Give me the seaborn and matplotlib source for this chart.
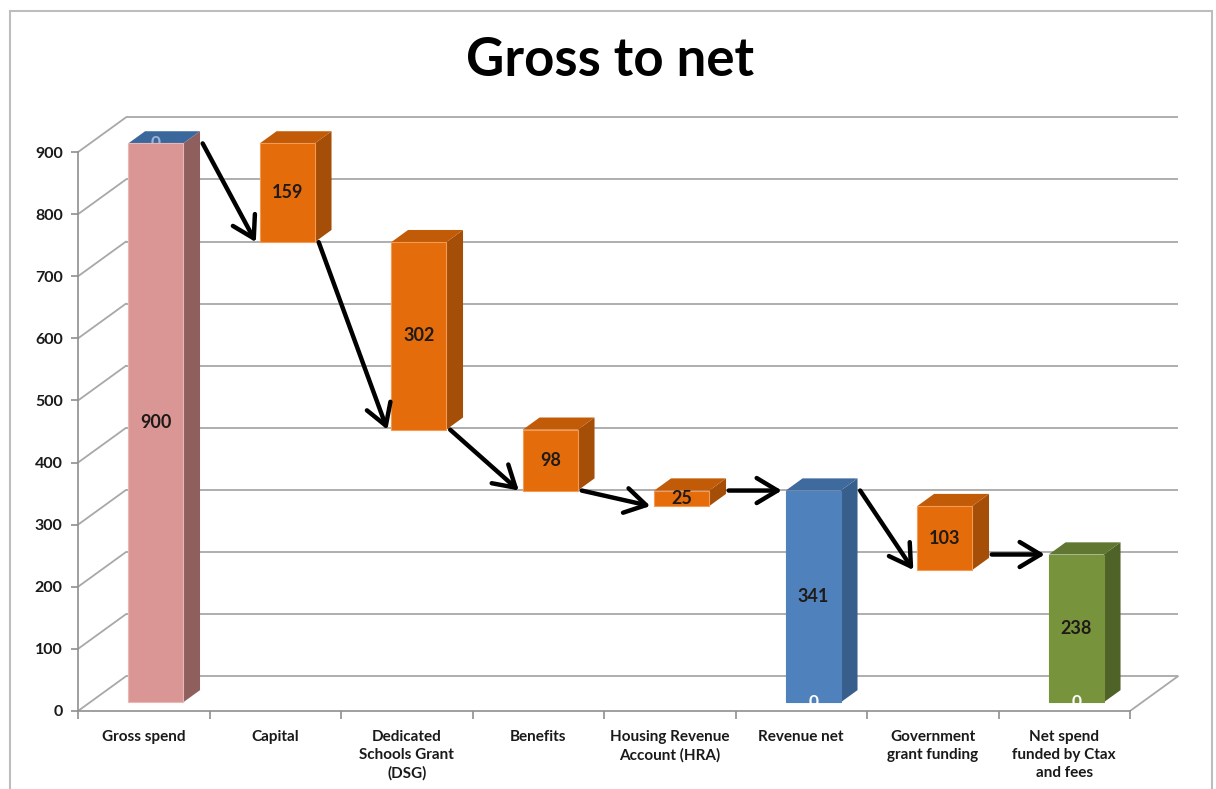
import numpy as np
import pandas as pd
import matplotlib
matplotlib.use("Agg")
import matplotlib.pyplot as plt
from matplotlib.patches import Polygon, FancyArrowPatch, Rectangle
import seaborn as sns

# ---- data -------------------------------------------------------------
categories = [
    "Gross spend",
    "Capital",
    "Dedicated\nSchools Grant\n(DSG)",
    "Benefits",
    "Housing Revenue\nAccount (HRA)",
    "Revenue net",
    "Government\ngrant funding",
    "Net spend\nfunded by Ctax\nand fees",
]
values = [900, 159, 302, 98, 25, 341, 103, 238]
steps = ["start", "down", "down", "down", "down", "total", "down", "total"]
y_ticks = [0, 100, 200, 300, 400, 500, 600, 700, 800, 900]

# arrows: (from bar, edge of that bar, to bar, edge of that bar)
arrow_links = [
    (0, "top", 1, "bottom"),
    (1, "bottom", 2, "bottom"),
    (2, "bottom", 3, "bottom"),
    (3, "bottom", 4, "bottom"),
    (4, "top", 5, "top"),
    (5, "top", 6, "bottom"),
    (7, "top", 7, "top"),
]

# ---- styling ----------------------------------------------------------
front_colors = ["#D99694", "#E46C0A", "#E46C0A", "#E46C0A", "#E46C0A",
                "#4F81BD", "#E46C0A", "#77933C"]
side_colors = ["#8F5F5E", "#A54E07", "#A54E07", "#A54E07", "#A54E07",
               "#385E8B", "#A54E07", "#4F6228"]
top_colors = ["#3B689C", "#C25B08", "#C25B08", "#C25B08", "#C25B08",
              "#3E6A9E", "#C25B08", "#5F7731"]
edge_colors = ["#E8B7B6", "#F59A52", "#F59A52", "#F59A52", "#F59A52",
               "#4F81BD", "#F59A52", "#77933C"]
GRID = "#a8a8a8"
AXIS = "#8f8f8f"

# oblique depth of the plot box, in data units (category units, value units)
DX, DY = 0.365, 56.0
D0 = 0.25          # depth of the bar fronts
DD = 0.35          # bar depth
BAR_W = 0.418

# ---- derive floating bar extents ---------------------------------------
bottoms, heights = [], []
level = 0
for v, s in zip(values, steps):
    if s == "start":
        b, level = 0, v
    elif s == "down":
        b = level - v
        level = b
    else:
        b = 0
    bottoms.append(b)
    heights.append(v)
bottoms = np.array(bottoms, dtype=float)
heights = np.array(heights, dtype=float)
tops = bottoms + heights

sns.set_theme(style="white")
plt.rcParams["font.family"] = ["Lato", "DejaVu Sans"]

fig = plt.figure(figsize=(12.16, 7.89), dpi=100)
W, H = 1216, 789
XSCALE = 131.5     # px per category
YSCALE = 0.621     # px per value unit
x_lo, x_hi = -0.5, 7.9
y_lo, y_hi = 0, 962
ax = fig.add_axes([78 / W, 78 / H, (x_hi - x_lo) * XSCALE / W, (y_hi - y_lo) * YSCALE / H])

df = pd.DataFrame({"category": categories, "height": heights})
sns.barplot(data=df, x="category", y="height", bottom=bottoms + D0 * DY,
            width=BAR_W, color=front_colors[0], saturation=1, errorbar=None,
            ax=ax, zorder=3)

ax.set_xlim(x_lo, x_hi)
ax.set_ylim(y_lo, y_hi)

# back wall gridlines and side-wall diagonals
for v in y_ticks:
    ax.plot([-0.5 + DX, 7.5 + DX], [v + DY, v + DY], color=GRID, lw=1.3, zorder=1,
            solid_capstyle="butt")
    ax.plot([-0.5, -0.5 + DX], [v, v + DY], color=GRID, lw=1.3, zorder=1)
ax.plot([7.5, 7.5 + DX], [0, DY], color=GRID, lw=1.3, zorder=1)

# 3-D faces for every bar
ddx, ddy = DD * DX, DD * DY
centers = []
for i, p in enumerate(ax.patches):
    p.set_x(p.get_x() + D0 * DX)
    p.set_facecolor(front_colors[i])
    p.set_edgecolor(edge_colors[i])
    p.set_linewidth(0.8)
    xL = p.get_x()
    xR = xL + p.get_width()
    yB = p.get_y()
    yT = yB + p.get_height()
    side = Polygon([(xR, yB), (xR + ddx, yB + ddy), (xR + ddx, yT + ddy), (xR, yT)],
                   closed=True, fc=side_colors[i], ec="none", zorder=2.5)
    top = Polygon([(xL, yT), (xR, yT), (xR + ddx, yT + ddy), (xL + ddx, yT + ddy)],
                  closed=True, fc=top_colors[i], ec="none", zorder=2.5)
    ax.add_patch(side)
    ax.add_patch(top)
    cx = (xL + xR) / 2
    centers.append((xL, xR, yB, yT))
    ax.text(cx, (yB + yT) / 2, f"{values[i]:g}", ha="center", va="center",
            fontsize=13, fontweight="bold", color="#1f1a17", zorder=6)

# zero-height segments of the stacked series
xL, xR, yB, yT = centers[0]
ax.text((xL + xR) / 2, yT, "0", ha="center", va="center", fontsize=12.5,
        fontweight="bold", color="#9fb5d6", zorder=2.7)
for i in (5, 7):
    xL, xR, yB, yT = centers[i]
    ax.text((xL + xR) / 2, yB, "0", ha="center", va="center", fontsize=12.5,
            fontweight="bold", color="white", zorder=6)

# connecting arrows
for a, ea, b, eb in arrow_links:
    xLa, xRa, yBa, yTa = centers[a]
    xLb, xRb, yBb, yTb = centers[b]
    ya = yTa if ea == "top" else yBa
    yb = yTb if eb == "top" else yBb
    if a == b:
        # arrow arriving from the previous bar at this bar's own level
        xs = centers[a - 1][1] + ddx + 0.02
        xe = xLb - 0.03
        ya = yb
    else:
        xs = xRa + (ddx + 0.02 if ea == "top" else 0.03)
        xe = xLb - 0.03
    arr = FancyArrowPatch((xs, ya), (xe, yb),
                          arrowstyle="->,head_length=0.75,head_width=0.45",
                          mutation_scale=20, lw=3.2, color="black",
                          shrinkA=0, shrinkB=0, zorder=5)
    ax.add_patch(arr)

# axes styling
for s in ("top", "right"):
    ax.spines[s].set_visible(False)
ax.spines["left"].set_bounds(0, 900)
ax.spines["bottom"].set_bounds(-0.5, 7.5)
for s in ("left", "bottom"):
    ax.spines[s].set_color(AXIS)
    ax.spines[s].set_linewidth(1.2)

ax.set_yticks(y_ticks)
ax.set_yticklabels([str(t) for t in y_ticks], fontsize=11.5, fontweight="bold",
                   color="#1a1a1a")
ax.tick_params(axis="y", which="major", direction="out", length=5, width=1.2,
               color=AXIS, pad=6, left=True)

ax.set_xticks(range(len(categories)))
ax.set_xticklabels(categories, fontsize=11, fontweight="bold", color="#1a1a1a",
                   linespacing=1.35, va="top")
ax.set_xticks(np.arange(-0.5, len(categories), 1.0), minor=True)
ax.tick_params(axis="x", which="major", length=0, pad=14)
ax.tick_params(axis="x", which="minor", direction="out", length=6, width=1.2,
               color=AXIS, bottom=True)
ax.set_xlabel("")
ax.set_ylabel("")
ax.grid(False)

fig.text(610 / W, 1 - 61 / H, "Gross to net", ha="center", va="center",
         fontsize=38, fontweight="bold", color="black")

frame = Rectangle((10 / W, -0.05), (1212 - 10) / W, 1 - 11 / H + 0.05,
                  transform=fig.transFigure, fill=False, ec="#bdbdbd", lw=1.5)
fig.add_artist(frame)

fig.savefig("out.png", dpi=100)
